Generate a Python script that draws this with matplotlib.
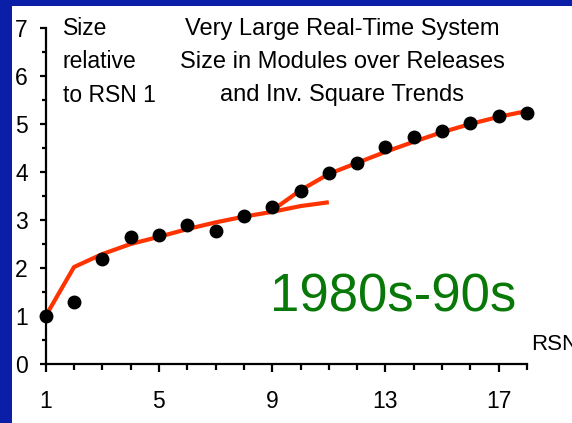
import matplotlib
matplotlib.use("Agg")
import matplotlib.pyplot as plt
from matplotlib.patches import Rectangle
from matplotlib.ticker import MultipleLocator

plt.rcParams['font.family'] = ['Liberation Sans', 'DejaVu Sans']

# ---- DATA ---- #
rsn = list(range(1, 19))
size = [1.0, 1.29, 2.19, 2.65, 2.69, 2.90, 2.77, 3.08, 3.27,
        3.60, 3.98, 4.19, 4.52, 4.73, 4.85, 5.02, 5.17, 5.23]

trend1_x = list(range(1, 12))
trend1_y = [1.0, 2.02, 2.29, 2.50, 2.65, 2.81, 2.95, 3.07, 3.17, 3.29, 3.37]

trend2_x = list(range(9, 19))
trend2_y = [3.20, 3.62, 3.96, 4.19, 4.42, 4.63, 4.83, 5.00, 5.15, 5.27]

xticks = [1, 5, 9, 13, 17]
yticks = [0, 1, 2, 3, 4, 5, 6, 7]

# ---- FIGURE ---- #
W, H = 572, 423
fig = plt.figure(figsize=(W / 100, H / 100), dpi=100, facecolor='#0A1EA8')
fig.patches.append(Rectangle((12 / W, 0), 1 - 12 / W, 1 - 6 / H,
                             transform=fig.transFigure, facecolor='white',
                             edgecolor='none', zorder=-5))

ax = fig.add_axes([45.7 / W, 1 - 364 / H, (527 - 45.7) / W, 336 / H])
ax.set_facecolor('none')

# ---- PLOTS ---- #
ax.plot(trend1_x, trend1_y, color='#FF3300', lw=3, solid_capstyle='butt', zorder=2)
ax.plot(trend2_x, trend2_y, color='#FF3300', lw=3, solid_capstyle='butt', zorder=2)
ax.plot(rsn, size, 'o', color='black', ms=9, clip_on=False, zorder=3)

# ---- AXIS ---- #
ax.set_xlim(1, 18)
ax.set_ylim(0, 7)
for s in ['top', 'right']:
    ax.spines[s].set_visible(False)
for s in ['left', 'bottom']:
    ax.spines[s].set_linewidth(1.6)

ax.set_xticks(xticks)
ax.xaxis.set_minor_locator(MultipleLocator(1))
ax.set_yticks(yticks)
ax.yaxis.set_minor_locator(MultipleLocator(0.5))
ax.tick_params(axis='both', which='major', direction='out', width=1.6,
               labelsize=16.5, colors='black')
ax.tick_params(axis='x', which='major', length=6, pad=13)
ax.tick_params(axis='x', which='minor', length=4, width=1.6)
ax.tick_params(axis='y', which='major', length=4, pad=9)
ax.tick_params(axis='y', which='minor', length=3, width=1.6)

# ---- LABELS ---- #
fig.text(63 / W, 1 - 17 / H, 'Size\nrelative\nto RSN 1', fontsize=16.5,
         ha='left', va='top', linespacing=1.58)
fig.text(342 / W, 1 - 18 / H,
         'Very Large Real-Time System\nSize in Modules over Releases\nand Inv. Square Trends',
         fontsize=17, ha='center', va='top', ma='center', linespacing=1.64)
fig.text(393 / W, 1 - 297 / H, '1980s-90s', fontsize=38, color='#087808',
         ha='center', va='center')
fig.text(531 / W, 1 - 345 / H, 'RSN', fontsize=16, ha='left', va='center')

plt.savefig('out.png', dpi=100, facecolor=fig.get_facecolor())
